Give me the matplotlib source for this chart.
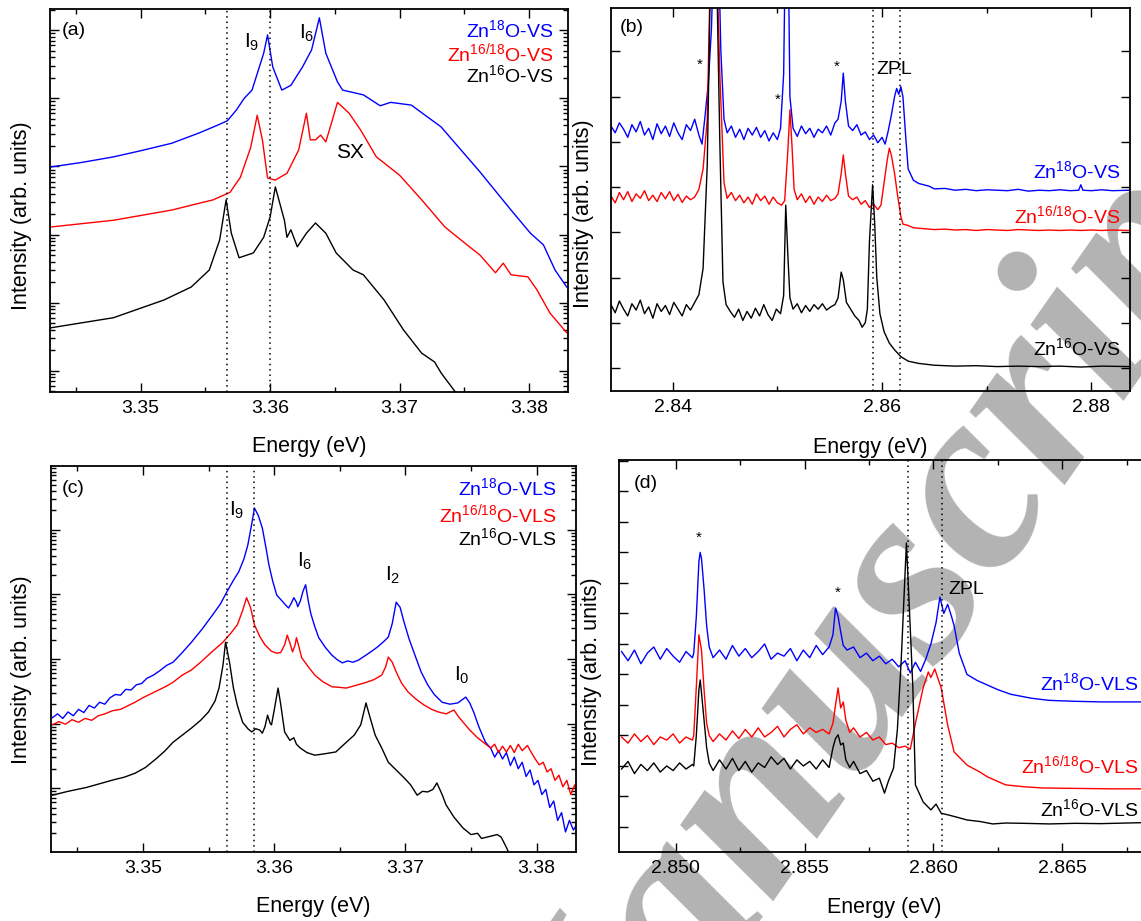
import numpy as np
import matplotlib
matplotlib.use("Agg")
import matplotlib.pyplot as plt
from matplotlib.ticker import MultipleLocator, LogLocator, NullFormatter, FormatStrFormatter

plt.rcParams['font.family'] = ['Liberation Sans', 'DejaVu Sans']
plt.rcParams['mathtext.fontset'] = 'custom'
plt.rcParams['mathtext.rm'] = 'Liberation Sans'
plt.rcParams['mathtext.it'] = 'Liberation Sans:italic'
plt.rcParams['mathtext.bf'] = 'Liberation Sans:bold'

W, H = 1141, 921
BLUE, RED, BLACK = '#0000ff', '#ff0000', '#000000'

# ---------------- panel (a): energy (eV), log10 intensity ----------------
a_blue = np.array([
    [3.3430, 2.99], [3.3455, 3.06], [3.3479, 3.14], [3.3500, 3.23], [3.3524, 3.34],
    [3.3545, 3.49], [3.3560, 3.61], [3.3567, 3.67], [3.3574, 3.83], [3.3580, 4.00],
    [3.3586, 4.12], [3.3595, 4.66], [3.3598, 4.93], [3.3602, 4.46], [3.3609, 4.12],
    [3.3616, 4.19], [3.3625, 4.46], [3.3632, 4.71], [3.3638, 5.18], [3.3643, 4.66],
    [3.3649, 4.38], [3.3652, 4.24], [3.3656, 4.12], [3.3672, 4.05], [3.3685, 3.89],
    [3.3693, 3.94], [3.3709, 3.90], [3.3732, 3.58], [3.3762, 2.92], [3.3786, 2.36],
    [3.3801, 2.02], [3.3811, 1.85], [3.3820, 1.48], [3.3829, 1.23]])
a_red = np.array([
    [3.3430, 2.11], [3.3479, 2.21], [3.3524, 2.36], [3.3556, 2.51], [3.3569, 2.62],
    [3.3577, 2.84], [3.3585, 3.28], [3.3590, 3.75], [3.3594, 3.39], [3.3598, 2.83],
    [3.3604, 2.80], [3.3613, 2.90], [3.3622, 3.24], [3.3628, 3.78], [3.3631, 3.39],
    [3.3635, 3.39], [3.3639, 3.46], [3.3643, 3.36], [3.3648, 3.68], [3.3652, 3.94],
    [3.3661, 3.78], [3.3670, 3.53], [3.3682, 3.14], [3.3700, 2.87], [3.3717, 2.51],
    [3.3735, 2.11], [3.3750, 1.88], [3.3762, 1.70], [3.3774, 1.44], [3.3780, 1.58],
    [3.3786, 1.41], [3.3799, 1.38], [3.3806, 1.19], [3.3816, 0.85], [3.3829, 0.56]])
a_black = np.array([
    [3.3430, 0.63], [3.3479, 0.78], [3.3518, 1.04], [3.3539, 1.23], [3.3553, 1.48],
    [3.3561, 1.92], [3.3566, 2.51], [3.3570, 2.02], [3.3576, 1.66], [3.3587, 1.73],
    [3.3595, 1.96], [3.3600, 2.26], [3.3604, 2.70], [3.3611, 2.21], [3.3613, 1.96],
    [3.3616, 2.07], [3.3621, 1.82], [3.3628, 2.02], [3.3635, 2.17], [3.3643, 2.02],
    [3.3651, 1.73], [3.3664, 1.48], [3.3672, 1.41], [3.3688, 1.04], [3.3703, 0.60],
    [3.3717, 0.26], [3.3727, 0.13], [3.3732, -0.03], [3.3743, -0.31]])
a_lines = [3.3567, 3.3600]

# ---------------- panel (b): energy (eV), linear intensity ----------------
b_blue = np.array([
    [2.8341, 5.35], [2.8345, 5.20], [2.8349, 5.42], [2.8353, 5.28], [2.8357, 5.10],
    [2.8361, 5.38], [2.8365, 5.22], [2.8369, 5.45], [2.8373, 5.15], [2.8377, 5.30],
    [2.8381, 5.05], [2.8385, 5.40], [2.8389, 5.18], [2.8393, 5.35], [2.8397, 5.12],
    [2.8401, 5.42], [2.8405, 5.20], [2.8409, 5.05], [2.8413, 5.38], [2.8417, 5.25],
    [2.8421, 5.50], [2.8425, 5.15], [2.8428, 4.95], [2.8431, 5.60], [2.8434, 6.30],
    [2.8437, 7.50], [2.8440, 10.0], [2.8443, 10.0], [2.8446, 7.00], [2.8449, 5.50],
    [2.8452, 5.20], [2.8456, 5.35], [2.8460, 5.10], [2.8464, 5.28], [2.8468, 5.05],
    [2.8472, 5.30], [2.8476, 5.15], [2.8480, 5.32], [2.8484, 5.10], [2.8488, 5.25],
    [2.8492, 5.02], [2.8496, 5.20], [2.8500, 5.05], [2.8503, 5.30], [2.8506, 6.50],
    [2.8508, 10.0], [2.8510, 10.0], [2.8512, 6.00], [2.8515, 5.30], [2.8519, 5.12],
    [2.8523, 5.35], [2.8527, 5.18], [2.8531, 5.30], [2.8535, 5.10], [2.8539, 5.28],
    [2.8543, 5.20], [2.8547, 5.35], [2.8551, 5.15], [2.8555, 5.42], [2.8558, 5.50],
    [2.8561, 5.90], [2.8563, 6.52], [2.8565, 5.90], [2.8568, 5.35], [2.8572, 5.25],
    [2.8576, 5.38], [2.8580, 5.15], [2.8584, 5.22], [2.8588, 5.05], [2.8592, 5.15],
    [2.8596, 4.98], [2.8600, 5.10], [2.8603, 4.95], [2.8606, 5.25], [2.8609, 5.60],
    [2.8612, 6.00], [2.8614, 6.18], [2.8616, 6.05], [2.8618, 6.22], [2.8620, 6.00],
    [2.8623, 5.00], [2.8625, 4.40], [2.8630, 4.15], [2.8635, 4.08], [2.8640, 4.05],
    [2.8645, 4.02], [2.8650, 3.96], [2.8660, 3.97], [2.8670, 3.93], [2.8680, 3.95],
    [2.8690, 3.92], [2.8700, 3.94], [2.8710, 3.93], [2.8720, 3.92], [2.8730, 3.95],
    [2.8740, 3.91], [2.8750, 3.93], [2.8760, 3.92], [2.8770, 3.94], [2.8780, 3.92],
    [2.8788, 3.93], [2.8790, 4.05], [2.8792, 3.93], [2.8800, 3.92], [2.8810, 3.94],
    [2.8820, 3.92], [2.8837, 3.93]])
b_red = np.array([
    [2.8341, 3.80], [2.8345, 3.65], [2.8349, 3.88], [2.8353, 3.72], [2.8357, 3.90],
    [2.8361, 3.68], [2.8365, 3.85], [2.8369, 3.75], [2.8373, 3.92], [2.8377, 3.70],
    [2.8381, 3.82], [2.8385, 3.68], [2.8389, 3.88], [2.8393, 3.74], [2.8397, 3.90],
    [2.8401, 3.70], [2.8405, 3.84], [2.8409, 3.66], [2.8413, 3.80], [2.8417, 3.72],
    [2.8421, 3.78], [2.8425, 3.95], [2.8429, 4.40], [2.8433, 5.50], [2.8437, 10.0],
    [2.8441, 10.0], [2.8445, 6.50], [2.8449, 4.10], [2.8452, 3.75], [2.8456, 3.88],
    [2.8460, 3.70], [2.8464, 3.82], [2.8468, 3.65], [2.8472, 3.78], [2.8476, 3.62],
    [2.8480, 3.85], [2.8484, 3.70], [2.8488, 3.80], [2.8492, 3.62], [2.8496, 3.78],
    [2.8500, 3.65], [2.8504, 3.60], [2.8507, 3.70], [2.8510, 4.80], [2.8512, 5.71],
    [2.8514, 4.90], [2.8516, 3.95], [2.8519, 3.72], [2.8523, 3.85], [2.8527, 3.66],
    [2.8531, 3.80], [2.8535, 3.62], [2.8539, 3.78], [2.8543, 3.68], [2.8547, 3.82],
    [2.8551, 3.70], [2.8555, 3.75], [2.8558, 3.85], [2.8561, 4.30], [2.8563, 4.71],
    [2.8565, 4.30], [2.8568, 3.80], [2.8572, 3.72], [2.8576, 3.78], [2.8580, 3.62],
    [2.8584, 3.70], [2.8588, 3.55], [2.8592, 3.62], [2.8596, 3.50], [2.8599, 3.60],
    [2.8602, 4.10], [2.8605, 4.60], [2.8607, 4.86], [2.8609, 4.70], [2.8612, 4.30],
    [2.8615, 3.80], [2.8618, 3.35], [2.8620, 3.18], [2.8625, 3.15], [2.8630, 3.10],
    [2.8640, 3.08], [2.8650, 3.06], [2.8660, 3.07], [2.8670, 3.05], [2.8680, 3.06],
    [2.8690, 3.04], [2.8700, 3.06], [2.8710, 3.05], [2.8720, 3.04], [2.8730, 3.06],
    [2.8740, 3.05], [2.8750, 3.04], [2.8760, 3.05], [2.8770, 3.04], [2.8780, 3.05],
    [2.8790, 3.04], [2.8800, 3.05], [2.8810, 3.04], [2.8820, 3.05], [2.8837, 3.04]])
b_black = np.array([
    [2.8341, 1.40], [2.8345, 1.22], [2.8349, 1.48], [2.8353, 1.30], [2.8357, 1.15],
    [2.8361, 1.42], [2.8365, 1.28], [2.8369, 1.50], [2.8373, 1.20], [2.8377, 1.35],
    [2.8381, 1.10], [2.8385, 1.42], [2.8389, 1.25], [2.8393, 1.38], [2.8397, 1.18],
    [2.8401, 1.45], [2.8405, 1.30], [2.8409, 1.15], [2.8413, 1.40], [2.8417, 1.28],
    [2.8421, 1.45], [2.8425, 1.62], [2.8429, 2.20], [2.8433, 4.50], [2.8437, 10.0],
    [2.8441, 10.0], [2.8445, 5.00], [2.8448, 1.90], [2.8451, 1.40], [2.8455, 1.25],
    [2.8459, 1.12], [2.8463, 1.30], [2.8467, 1.05], [2.8471, 1.25], [2.8475, 1.10],
    [2.8479, 1.32], [2.8483, 1.15], [2.8487, 1.40], [2.8491, 1.18], [2.8495, 1.05],
    [2.8499, 1.30], [2.8503, 1.20], [2.8506, 1.60], [2.8508, 3.60], [2.8510, 2.50],
    [2.8512, 1.55], [2.8515, 1.30], [2.8519, 1.42], [2.8523, 1.22], [2.8527, 1.38],
    [2.8531, 1.25], [2.8535, 1.40], [2.8539, 1.30], [2.8543, 1.42], [2.8547, 1.28],
    [2.8551, 1.35], [2.8555, 1.40], [2.8558, 1.55], [2.8561, 2.12], [2.8563, 1.95],
    [2.8566, 1.45], [2.8570, 1.30], [2.8574, 1.15], [2.8578, 1.05], [2.8581, 0.90],
    [2.8584, 1.00], [2.8586, 1.30], [2.8588, 2.80], [2.8591, 4.05], [2.8593, 3.20],
    [2.8595, 2.00], [2.8598, 1.20], [2.8602, 0.80], [2.8607, 0.55], [2.8612, 0.40],
    [2.8618, 0.25], [2.8625, 0.15], [2.8635, 0.10], [2.8650, 0.06], [2.8670, 0.04],
    [2.8690, 0.05], [2.8710, 0.03], [2.8730, 0.04], [2.8750, 0.03], [2.8770, 0.04],
    [2.8790, 0.02], [2.8810, 0.04], [2.8837, 0.03]])
b_lines = [2.8591, 2.8617]

# ---------------- panel (c): energy (eV), log10 intensity ----------------
c_blue = np.array([
    [3.3431, 1.09], [3.3435, 1.15], [3.3439, 1.08], [3.3443, 1.18], [3.3447, 1.12],
    [3.3451, 1.22], [3.3455, 1.17], [3.3459, 1.28], [3.3463, 1.24], [3.3467, 1.33],
    [3.3471, 1.30], [3.3475, 1.40], [3.3479, 1.45], [3.3483, 1.44], [3.3487, 1.53],
    [3.3491, 1.52], [3.3495, 1.60], [3.3499, 1.62], [3.3503, 1.70], [3.3508, 1.75],
    [3.3513, 1.82], [3.3518, 1.90], [3.3523, 1.95], [3.3530, 2.10], [3.3537, 2.26],
    [3.3545, 2.46], [3.3553, 2.68], [3.3559, 2.85], [3.3564, 3.04], [3.3569, 3.22],
    [3.3573, 3.35], [3.3577, 3.55], [3.3580, 3.77], [3.3583, 4.10], [3.3585, 4.34],
    [3.3588, 4.22], [3.3591, 4.03], [3.3594, 3.70], [3.3596, 3.46], [3.3599, 3.20],
    [3.3602, 2.99], [3.3606, 2.90], [3.3609, 2.83], [3.3611, 2.79], [3.3613, 2.86],
    [3.3615, 2.95], [3.3617, 2.88], [3.3618, 2.81], [3.3620, 2.90], [3.3622, 3.05],
    [3.3624, 3.15], [3.3626, 2.90], [3.3628, 2.70], [3.3631, 2.50], [3.3634, 2.33],
    [3.3639, 2.18], [3.3644, 2.06], [3.3648, 1.99], [3.3652, 1.94], [3.3656, 1.97],
    [3.3660, 1.95], [3.3664, 1.98], [3.3670, 2.06], [3.3675, 2.13], [3.3679, 2.19],
    [3.3684, 2.28], [3.3687, 2.34], [3.3690, 2.55], [3.3693, 2.88], [3.3696, 2.80],
    [3.3699, 2.57], [3.3703, 2.30], [3.3708, 2.02], [3.3712, 1.80], [3.3717, 1.60],
    [3.3722, 1.45], [3.3728, 1.33], [3.3734, 1.30], [3.3740, 1.32], [3.3744, 1.38],
    [3.3746, 1.41], [3.3749, 1.32], [3.3752, 1.18], [3.3756, 0.95], [3.3761, 0.71],
    [3.3765, 0.62], [3.3768, 0.48], [3.3771, 0.58], [3.3774, 0.45], [3.3777, 0.55],
    [3.3780, 0.35], [3.3783, 0.48], [3.3786, 0.30], [3.3789, 0.40], [3.3792, 0.18],
    [3.3795, 0.28], [3.3798, 0.05], [3.3801, 0.12], [3.3804, -0.10], [3.3807, -0.02],
    [3.3810, -0.30], [3.3813, -0.20], [3.3816, -0.50], [3.3819, -0.38], [3.3822, -0.68],
    [3.3825, -0.50], [3.3828, -0.65], [3.3831, -0.55]])
c_red = np.array([
    [3.3431, 0.98], [3.3436, 1.03], [3.3441, 0.99], [3.3446, 1.06], [3.3451, 1.02],
    [3.3456, 1.08], [3.3461, 1.05], [3.3466, 1.12], [3.3471, 1.15], [3.3477, 1.20],
    [3.3483, 1.22], [3.3489, 1.28], [3.3494, 1.33], [3.3500, 1.40], [3.3506, 1.46],
    [3.3512, 1.52], [3.3518, 1.58], [3.3523, 1.64], [3.3530, 1.75], [3.3537, 1.83],
    [3.3544, 1.95], [3.3552, 2.10], [3.3561, 2.26], [3.3567, 2.40], [3.3572, 2.53],
    [3.3576, 2.75], [3.3579, 2.95], [3.3582, 2.80], [3.3585, 2.53], [3.3589, 2.35],
    [3.3593, 2.22], [3.3598, 2.12], [3.3602, 2.09], [3.3605, 2.10], [3.3608, 2.22],
    [3.3610, 2.37], [3.3612, 2.25], [3.3614, 2.11], [3.3616, 2.22], [3.3617, 2.33],
    [3.3619, 2.18], [3.3621, 2.02], [3.3626, 1.88], [3.3631, 1.75], [3.3637, 1.65],
    [3.3644, 1.57], [3.3650, 1.56], [3.3655, 1.55], [3.3662, 1.59], [3.3669, 1.63],
    [3.3676, 1.68], [3.3682, 1.75], [3.3685, 1.88], [3.3687, 2.03], [3.3690, 1.95],
    [3.3693, 1.80], [3.3697, 1.63], [3.3702, 1.49], [3.3708, 1.38], [3.3714, 1.29],
    [3.3720, 1.22], [3.3725, 1.18], [3.3731, 1.15], [3.3737, 1.21], [3.3740, 1.12],
    [3.3744, 1.02], [3.3749, 0.90], [3.3755, 0.78], [3.3760, 0.70], [3.3765, 0.62],
    [3.3768, 0.68], [3.3771, 0.55], [3.3774, 0.65], [3.3777, 0.56], [3.3780, 0.66],
    [3.3783, 0.55], [3.3786, 0.68], [3.3789, 0.58], [3.3793, 0.66], [3.3796, 0.55],
    [3.3799, 0.45], [3.3802, 0.36], [3.3805, 0.40], [3.3808, 0.25], [3.3811, 0.30],
    [3.3814, 0.12], [3.3817, 0.20], [3.3820, 0.02], [3.3823, 0.12], [3.3826, -0.10],
    [3.3829, 0.05], [3.3831, -0.06]])
c_black = np.array([
    [3.3431, -0.11], [3.3437, -0.08], [3.3443, -0.05], [3.3450, -0.02], [3.3457, 0.01],
    [3.3464, 0.05], [3.3471, 0.09], [3.3478, 0.13], [3.3486, 0.17], [3.3494, 0.23],
    [3.3502, 0.32], [3.3511, 0.47], [3.3517, 0.58], [3.3523, 0.71], [3.3530, 0.82],
    [3.3537, 0.93], [3.3544, 1.05], [3.3550, 1.18], [3.3555, 1.35], [3.3558, 1.55],
    [3.3561, 1.90], [3.3563, 2.26], [3.3566, 1.95], [3.3569, 1.55], [3.3572, 1.28],
    [3.3576, 1.02], [3.3580, 0.92], [3.3583, 0.87], [3.3586, 0.92], [3.3589, 0.90],
    [3.3591, 0.85], [3.3593, 0.95], [3.3595, 1.13], [3.3597, 1.00], [3.3598, 0.98],
    [3.3600, 1.20], [3.3603, 1.55], [3.3605, 1.30], [3.3608, 0.87], [3.3612, 0.74],
    [3.3615, 0.78], [3.3617, 0.68], [3.3620, 0.62], [3.3625, 0.55], [3.3631, 0.51],
    [3.3638, 0.53], [3.3647, 0.56], [3.3655, 0.71], [3.3661, 0.82], [3.3666, 0.98],
    [3.3670, 1.32], [3.3673, 1.10], [3.3677, 0.82], [3.3682, 0.62], [3.3687, 0.40],
    [3.3693, 0.28], [3.3699, 0.16], [3.3704, 0.05], [3.3709, -0.11], [3.3713, -0.05],
    [3.3717, -0.06], [3.3721, -0.02], [3.3724, 0.08], [3.3728, -0.10], [3.3731, -0.26],
    [3.3737, -0.45], [3.3744, -0.62], [3.3750, -0.72], [3.3755, -0.70], [3.3758, -0.78],
    [3.3762, -0.76], [3.3766, -0.74], [3.3770, -0.72], [3.3773, -0.76], [3.3776, -0.88],
    [3.3780, -1.05]])
c_lines = [3.3564, 3.3585]

# ---------------- panel (d): energy (eV), linear intensity ----------------
d_blue = np.array([
    [2.8479, 5.75], [2.84815, 5.45], [2.8484, 5.80], [2.84865, 5.35], [2.8489, 5.70],
    [2.84915, 5.90], [2.8494, 5.50], [2.84965, 5.85], [2.8499, 5.60], [2.85015, 5.40],
    [2.8504, 5.75], [2.85065, 5.55], [2.8507, 5.70], [2.8508, 6.90], [2.8509, 8.70],
    [2.85095, 9.00], [2.8510, 8.80], [2.8511, 7.80], [2.8512, 6.60], [2.8513, 5.90],
    [2.85145, 5.55], [2.8517, 5.80], [2.85195, 5.50], [2.8522, 5.95], [2.85245, 5.60],
    [2.8527, 5.85], [2.85295, 5.55], [2.8532, 5.75], [2.85345, 6.00], [2.8537, 5.50],
    [2.85395, 5.70], [2.8542, 5.60], [2.85445, 5.85], [2.8547, 5.45], [2.85495, 5.80],
    [2.8552, 5.55], [2.85545, 5.95], [2.8557, 5.65], [2.85595, 5.90], [2.8561, 6.30],
    [2.8562, 7.18], [2.8563, 6.90], [2.8564, 6.40], [2.8565, 5.95], [2.85665, 5.80],
    [2.8569, 5.90], [2.85715, 5.55], [2.8574, 5.70], [2.85765, 5.45], [2.8579, 5.60],
    [2.85815, 5.35], [2.8584, 5.50], [2.85865, 5.25], [2.8589, 5.45], [2.8591, 5.05],
    [2.8593, 5.40], [2.8595, 5.10], [2.8597, 5.50], [2.8599, 6.00], [2.8601, 6.70],
    [2.86025, 7.54], [2.8604, 7.00], [2.86055, 7.30], [2.8607, 6.90], [2.8608, 6.60],
    [2.8610, 5.70], [2.8613, 5.00], [2.8617, 4.80], [2.8621, 4.65], [2.8625, 4.50],
    [2.8630, 4.35], [2.8638, 4.22], [2.8645, 4.15], [2.8655, 4.12], [2.8665, 4.10],
    [2.8675, 4.10], [2.8690, 4.10]])
d_red = np.array([
    [2.8479, 2.95], [2.84815, 2.75], [2.8484, 3.05], [2.84865, 2.80], [2.8489, 3.00],
    [2.84915, 2.70], [2.8494, 2.95], [2.84965, 2.85], [2.8499, 3.05], [2.85015, 2.75],
    [2.8504, 2.95], [2.85065, 2.85], [2.8507, 3.00], [2.8508, 4.60], [2.8509, 6.30],
    [2.8510, 5.80], [2.8511, 4.50], [2.8512, 3.40], [2.8513, 3.00], [2.85145, 2.80],
    [2.8517, 3.05], [2.85195, 2.85], [2.8522, 3.15], [2.85245, 2.90], [2.8527, 3.20],
    [2.85295, 2.95], [2.8532, 3.25], [2.85345, 2.95], [2.8537, 3.10], [2.85395, 3.30],
    [2.8542, 2.95], [2.85445, 3.20], [2.8547, 3.35], [2.85495, 3.05], [2.8552, 3.25],
    [2.85545, 3.10], [2.8557, 3.20], [2.85595, 3.05], [2.8561, 3.40], [2.8562, 4.00],
    [2.8563, 4.56], [2.8564, 3.90], [2.8565, 4.10], [2.8566, 3.50], [2.85675, 3.10],
    [2.8569, 3.25], [2.85715, 2.95], [2.8574, 3.10], [2.85765, 2.85], [2.8579, 2.95],
    [2.85815, 2.70], [2.8584, 2.75], [2.85865, 2.60], [2.8589, 2.65], [2.8591, 2.55],
    [2.8593, 3.40], [2.8596, 4.56], [2.8598, 5.08], [2.8599, 4.90], [2.86005, 5.18],
    [2.8602, 4.80], [2.8603, 4.56], [2.86055, 3.34], [2.8608, 2.46], [2.8613, 2.03],
    [2.8618, 1.80], [2.8621, 1.64], [2.8628, 1.38], [2.8635, 1.32], [2.8642, 1.28],
    [2.8650, 1.27], [2.8660, 1.26], [2.8670, 1.25], [2.8690, 1.25]])
d_black = np.array([
    [2.8479, 1.90], [2.84815, 2.15], [2.8484, 1.75], [2.84865, 2.05], [2.8489, 1.85],
    [2.84915, 2.10], [2.8494, 1.80], [2.84965, 2.00], [2.8499, 1.85], [2.85015, 2.10],
    [2.8504, 1.90], [2.85065, 2.05], [2.8507, 2.00], [2.8508, 3.00], [2.8509, 4.50],
    [2.85095, 4.82], [2.8510, 4.40], [2.8511, 3.50], [2.8512, 2.60], [2.8513, 2.10],
    [2.85145, 1.85], [2.8517, 2.20], [2.85195, 1.90], [2.8522, 2.25], [2.85245, 1.85],
    [2.8527, 2.15], [2.85295, 1.80], [2.8532, 2.10], [2.85345, 1.95], [2.8537, 2.30],
    [2.85395, 2.05], [2.8542, 2.25], [2.85445, 1.90], [2.8547, 2.20], [2.85495, 2.00],
    [2.8552, 2.15], [2.85545, 1.90], [2.8557, 2.20], [2.85595, 1.95], [2.8561, 2.60],
    [2.8562, 2.90], [2.8563, 3.02], [2.8564, 2.69], [2.8565, 2.75], [2.8566, 2.20],
    [2.85675, 1.95], [2.8569, 2.15], [2.85715, 1.75], [2.8574, 1.85], [2.85765, 1.50],
    [2.8579, 1.60], [2.8581, 1.11], [2.85825, 1.50], [2.85845, 1.93], [2.8586, 3.20],
    [2.85875, 5.50], [2.85895, 9.31], [2.8591, 6.50], [2.8592, 4.56], [2.8593, 1.38],
    [2.8596, 0.82], [2.8599, 0.56], [2.8601, 0.75], [2.8603, 0.45], [2.8606, 0.39],
    [2.8610, 0.30], [2.8613, 0.23], [2.8618, 0.18], [2.8623, 0.10], [2.8628, 0.13],
    [2.8635, 0.12], [2.8645, 0.10], [2.8655, 0.12], [2.8665, 0.11], [2.8675, 0.13],
    [2.8690, 0.16]])
d_lines = [2.8590, 2.86035]

# ---------------- text ----------------
LEG_VS = [r'Zn$^{18}$O-VS', r'Zn$^{16/18}$O-VS', r'Zn$^{16}$O-VS']
LEG_VLS = [r'Zn$^{18}$O-VLS', r'Zn$^{16/18}$O-VLS', r'Zn$^{16}$O-VLS']
XLABEL = 'Energy (eV)'
YLABEL = 'Intensity (arb. units)'
WATERMARK = 'Manuscript'

# ======================================================================
fig = plt.figure(figsize=(W / 100, H / 100), dpi=100)
fig.patch.set_facecolor('white')


def px_axes(l, r, t, b):
    ax = fig.add_axes([l / W, 1 - b / H, (r - l) / W, (b - t) / H])
    ax.patch.set_alpha(0)
    return ax


def ftext(x, y, s, **kw):
    return fig.text(x / W, 1 - y / H, s, **kw)


def style(ax, xmaj, xmin, log=False, ymaj=1):
    ax.tick_params(which='both', direction='in', top=True, right=True,
                   labelsize=14, pad=6, width=1.0)
    ax.tick_params(which='major', length=6.5)
    ax.tick_params(which='minor', length=3.5)
    for s in ax.spines.values():
        s.set_linewidth(1.3)
    ax.xaxis.set_major_locator(MultipleLocator(xmaj))
    ax.xaxis.set_minor_locator(MultipleLocator(xmin))
    if log:
        ax.set_yscale('log')
        ax.yaxis.set_major_locator(LogLocator(base=10, numticks=30))
        ax.yaxis.set_minor_locator(LogLocator(base=10, subs=np.arange(2, 10), numticks=30))
        ax.yaxis.set_minor_formatter(NullFormatter())
    else:
        ax.yaxis.set_major_locator(MultipleLocator(ymaj))
    ax.yaxis.set_major_formatter(NullFormatter())


LW = 1.0
DOT = (0, (1, 2.5))

# ---- (a)
axa = px_axes(50, 568, 9, 392)
for arr, col in [(a_blue, BLUE), (a_red, RED), (a_black, BLACK)]:
    axa.plot(arr[:, 0], 10 ** arr[:, 1], color=col, lw=LW)
for e in a_lines:
    axa.axvline(e, color='black', ls=DOT, lw=1.1)
axa.set_xlim(3.343, 3.383)
axa.set_ylim(10 ** -0.31, 10 ** 5.31)
style(axa, 0.01, 0.005, log=True)
axa.xaxis.set_major_formatter(FormatStrFormatter('%.2f'))
axa.text(0.023, 0.945, '(a)', transform=axa.transAxes, fontsize=14, va='center', ha='left')
for s, col, yy in zip(LEG_VS, [BLUE, RED, BLACK], [0.945, 0.885, 0.828]):
    axa.text(0.972, yy, s, color=col, transform=axa.transAxes, fontsize=14, ha='right', va='center')
axa.text(3.3580, 10 ** 4.82, r'I$_9$', fontsize=15, ha='left', va='center')
axa.text(3.3622, 10 ** 4.96, r'I$_6$', fontsize=15, ha='left', va='center')
axa.text(3.3662, 10 ** 3.20, 'SX', fontsize=15, ha='center', va='center')

# ---- (b)
axb = px_axes(611, 1130, 8, 391)
for arr, col in [(b_blue, BLUE), (b_red, RED), (b_black, BLACK)]:
    axb.plot(arr[:, 0], arr[:, 1], color=col, lw=LW)
for e in b_lines:
    axb.axvline(e, color='black', ls=DOT, lw=1.1)
axb.set_xlim(2.8341, 2.8837)
axb.set_ylim(-0.51, 7.96)
style(axb, 0.02, 0.01, ymaj=1)
axb.xaxis.set_major_formatter(FormatStrFormatter('%.2f'))
axb.text(0.017, 0.95, '(b)', transform=axb.transAxes, fontsize=14, va='center', ha='left')
for s, col, yy in zip(LEG_VS, [BLUE, RED, BLACK], [4.36, 3.38, 0.44]):
    axb.text(2.8828, yy, s, color=col, fontsize=14, ha='right', va='center')
for e, v in [(2.8426, 6.70), (2.8500, 5.93), (2.8557, 6.66)]:
    axb.text(e, v, '*', fontsize=11, ha='center', va='center')
axb.text(2.8612, 6.59, 'ZPL', fontsize=14, ha='center', va='center')

# ---- (c)
axc = px_axes(51, 576, 466, 852)
for arr, col in [(c_blue, BLUE), (c_red, RED), (c_black, BLACK)]:
    axc.plot(arr[:, 0], 10 ** arr[:, 1], color=col, lw=LW)
for e in c_lines:
    axc.axvline(e, color='black', ls=DOT, lw=1.1)
axc.set_xlim(3.343, 3.383)
axc.set_ylim(10 ** -0.99, 10 ** 4.99)
style(axc, 0.01, 0.005, log=True)
axc.xaxis.set_major_formatter(FormatStrFormatter('%.2f'))
axc.text(0.021, 0.943, '(c)', transform=axc.transAxes, fontsize=14, va='center', ha='left')
for s, col, yy in zip(LEG_VLS, [BLUE, RED, BLACK], [0.943, 0.876, 0.813]):
    axc.text(0.962, yy, s, color=col, transform=axc.transAxes, fontsize=14, ha='right', va='center')
axc.text(3.35656, 10 ** 4.31, r'I$_9$', fontsize=15, ha='left', va='center')
axc.text(3.36176, 10 ** 3.52, r'I$_6$', fontsize=15, ha='left', va='center')
axc.text(3.36847, 10 ** 3.30, r'I$_2$', fontsize=15, ha='left', va='center')
axc.text(3.37374, 10 ** 1.74, r'I$_0$', fontsize=15, ha='left', va='center')

# ---- (d)
axd = px_axes(619, 1150, 460, 852)
for arr, col in [(d_blue, BLUE), (d_red, RED), (d_black, BLACK)]:
    axd.plot(arr[:, 0], arr[:, 1], color=col, lw=LW)
for e in d_lines:
    axd.axvline(e, color='black', ls=DOT, lw=1.1)
axd.set_xlim(2.8478, 2.8684)
axd.set_ylim(-0.82, 12.03)
style(axd, 0.005, 0.0025, ymaj=1)
axd.xaxis.set_major_formatter(FormatStrFormatter('%.3f'))
axd.text(0.028, 0.941, '(d)', transform=axd.transAxes, fontsize=14, va='center', ha='left')
for s, col, yy in zip(LEG_VLS, [BLUE, RED, BLACK], [4.72, 2.03, 0.59]):
    axd.text(2.86795, yy, s, color=col, fontsize=14, ha='right', va='center')
for e, v in [(2.85089, 9.48), (2.85628, 7.67)]:
    axd.text(e, v, '*', fontsize=11, ha='center', va='center')
axd.text(2.86128, 7.77, 'ZPL', fontsize=14, ha='center', va='center')

# axis labels
for x, y in [(309, 446), (870, 447), (313, 906), (884, 907)]:
    ftext(x, y, XLABEL, fontsize=15.5, ha='center', va='center')
for x, y in [(22, 216), (583, 214), (22, 670), (592, 672)]:
    ftext(x, y, YLABEL, fontsize=15.5, ha='center', va='center', rotation=90)

# watermark
ftext(565, 1205, WATERMARK, rotation=55, rotation_mode='anchor', ha='left', va='baseline',
      fontsize=188, family='Liberation Serif', style='italic', weight='bold',
      color='#b3b3b3', zorder=-5)

fig.savefig('out.png', dpi=100, facecolor='white')
